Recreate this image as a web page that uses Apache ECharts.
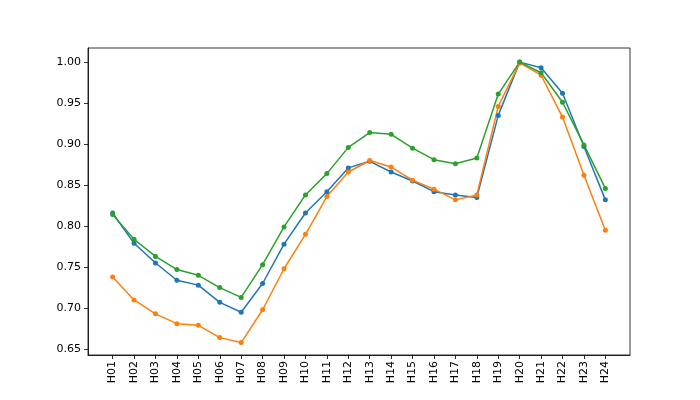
<!DOCTYPE html>
<html>
<head>
<meta charset="utf-8">
<script src="https://cdn.jsdelivr.net/npm/echarts@6/dist/echarts.min.js"></script>
<style>html,body{margin:0;padding:0;background:#fff}#chart{width:700px;height:400px}</style>
</head>
<body>
<div id="chart"></div>
<script>
const categories = ['H01','H02','H03','H04','H05','H06','H07','H08','H09','H10','H11','H12',
  'H13','H14','H15','H16','H17','H18','H19','H20','H21','H22','H23','H24']
const blue = [0.816,0.779,0.755,0.734,0.728,0.707,0.695,0.730,0.778,0.816,0.842,0.871,
  0.879,0.866,0.855,0.842,0.838,0.835,0.935,1.000,0.993,0.962,0.897,0.832]
const orange = [0.738,0.710,0.693,0.681,0.679,0.664,0.658,0.698,0.748,0.790,0.836,0.866,
  0.880,0.872,0.856,0.845,0.832,0.838,0.946,0.999,0.984,0.933,0.862,0.795]
const green = [0.814,0.784,0.763,0.747,0.740,0.725,0.713,0.753,0.799,0.838,0.864,0.896,
  0.914,0.912,0.895,0.881,0.876,0.883,0.961,1.000,0.987,0.951,0.899,0.846]
const yTicks = [0.65,0.70,0.75,0.80,0.85,0.90,0.95,1.00]

const font = { fontFamily: 'DejaVu Sans', fontSize: 11, color: '#000' }
const toPairs = arr => arr.map((v, i) => [i, v])
const mk = (data, color) => ({
  type: 'line', data: toPairs(data), symbol: 'circle', symbolSize: 5,
  lineStyle: { color, width: 1.5 }, itemStyle: { color }, animation: false
})
const line = { show: true, onZero: false, lineStyle: { color: '#000', width: 0.8 } }
const tick = { show: true, inside: false, length: 4, lineStyle: { color: '#000', width: 0.8 } }

const chart = echarts.init(document.getElementById('chart'))
chart.setOption({
  animation: false,
  grid: { left: 88, right: 70, top: 48, bottom: 45, show: true, borderColor: '#000', borderWidth: 0.8 },
  xAxis: {
    type: 'value', min: -1.15, max: 24.15,
    axisLine: line,
    splitLine: { show: false },
    axisTick: { ...tick, customValues: categories.map((c, i) => i) },
    axisLabel: { ...font, margin: 6, rotate: 90, customValues: categories.map((c, i) => i), formatter: v => categories[v] }
  },
  yAxis: {
    type: 'value', min: 0.6428, max: 1.0172,
    axisLine: line,
    splitLine: { show: false },
    axisTick: { ...tick, customValues: yTicks },
    axisLabel: { ...font, margin: 7, customValues: yTicks, formatter: v => v.toFixed(2) }
  },
  series: [mk(blue, '#1f77b4'), mk(orange, '#ff7f0e'), mk(green, '#2ca02c')]
})
</script>
</body>
</html>
